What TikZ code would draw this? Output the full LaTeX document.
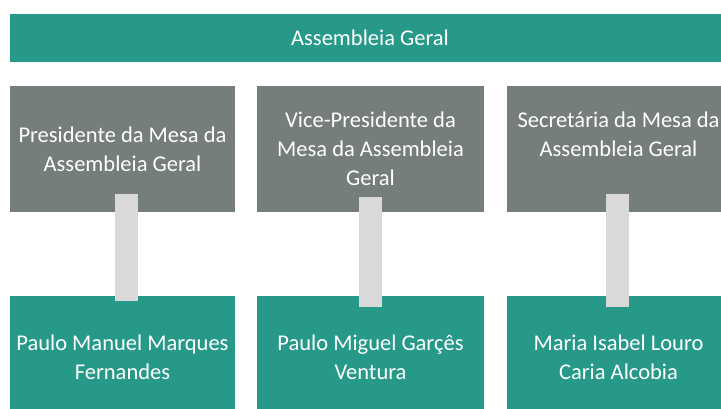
\documentclass[tikz,border=0pt]{standalone}
\usepackage{fontspec}
\setmainfont{Carlito}
\usetikzlibrary{calc}
\definecolor{tealbox}{RGB}{38,153,136}
\definecolor{graybox}{RGB}{118,126,121}
\definecolor{connc}{RGB}{217,217,217}
\begin{document}
\begin{tikzpicture}[x=1pt,y=-1pt,
  box/.style={rectangle,inner sep=0pt,outer sep=0pt,anchor=north west,align=center,
    text=white,font=\fontsize{22.5}{29}\selectfont},
  tealnode/.style={box,fill=tealbox},
  graynode/.style={box,fill=graybox},
  conn/.style={draw=connc,line width=23pt}]
\useasboundingbox (0,0) rectangle (721,408);
\clip (0,0) rectangle (721,408);
\fill[white] (0,0) rectangle (721,408);
\node[tealnode,minimum width=720pt,minimum height=48pt] (top) at (10,14) {Assembleia Geral};
\node[graynode,minimum width=225pt,minimum height=126pt] (p1) at (10,86) {Presidente da Mesa da\\Assembleia Geral};
\node[graynode,minimum width=227pt,minimum height=126pt] (p2) at (257,86) {Vice-Presidente da\\Mesa da Assembleia\\Geral};
\node[graynode,minimum width=223pt,minimum height=126pt] (p3) at (507,86) {Secretária da Mesa da\\Assembleia Geral\\\mbox{}};
\node[tealnode,minimum width=225pt,minimum height=122pt] (n1) at (10,296) {Paulo Manuel Marques\\Fernandes};
\node[tealnode,minimum width=227pt,minimum height=122pt] (n2) at (257,296) {Paulo Miguel Garçês\\Ventura};
\node[tealnode,minimum width=223pt,minimum height=122pt] (n3) at (507,296) {Maria Isabel Louro\\Caria Alcobia};
\draw[conn] ($(p1.south)+(4,-18)$) -- ($(n1.north)+(4,5)$);
\draw[conn] ($(p2.south)+(0,-15)$) -- ($(n2.north)+(0,11)$);
\draw[conn] ($(p3.south)+(-1,-18)$) -- ($(n3.north)+(-1,11)$);
\end{tikzpicture}
\end{document}
